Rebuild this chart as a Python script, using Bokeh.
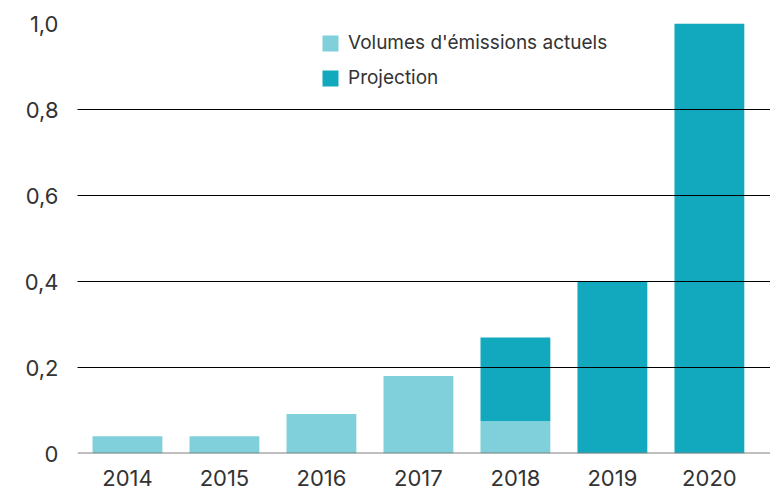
from bokeh.plotting import figure
from bokeh.models import (ColumnDataSource, FixedTicker, Range1d, Span, Legend, LegendItem)
from bokeh.embed import file_html
from bokeh.resources import INLINE

years = ["2014", "2015", "2016", "2017", "2018", "2019", "2020"]
actual = [0.04, 0.04, 0.092, 0.18, 0.075, 0.0, 0.0]
projection = [0.0, 0.0, 0.0, 0.0, 0.195, 0.40, 1.0]
y_ticks = [0, 0.2, 0.4, 0.6, 0.8, 1.0]
y_tick_labels = ["0", "0,2", "0,4", "0,6", "0,8", "1,0"]
series_names = ["Volumes d'émissions actuels", "Projection"]

LIGHT = "#7fd0da"
DARK = "#12a8bd"
FONT = "Inter"

xs = list(range(len(years)))
src = ColumnDataSource(dict(x=xs, actual=actual, projection=projection))

p = figure(width=770, height=494, output_backend="svg", toolbar_location=None,
           x_range=Range1d(-0.515, 6.63), y_range=Range1d(0, 1.0),
           min_border_left=77, min_border_right=0, min_border_top=23,
           min_border_bottom=41)
p.outline_line_color = None
p.background_fill_color = "white"

r = p.vbar_stack(["actual", "projection"], x="x", width=0.72, source=src,
                 color=[LIGHT, DARK], line_color=None)

p.xaxis.ticker = FixedTicker(ticks=xs)
p.xaxis.major_label_overrides = {i: y for i, y in enumerate(years)}
p.yaxis.ticker = FixedTicker(ticks=y_ticks)
p.yaxis.major_label_overrides = {t: l for t, l in zip(y_ticks, y_tick_labels)}

for ax in (p.xaxis[0], p.yaxis[0]):
    ax.axis_line_color = None
    ax.major_tick_line_color = None
    ax.minor_tick_line_color = None
    ax.major_tick_out = 0
    ax.major_tick_in = 0
    ax.minor_tick_out = 0
    ax.major_label_text_font = FONT
    ax.major_label_text_font_size = "22px"
    ax.major_label_text_color = "#333333"
p.yaxis.major_label_standoff = 19
p.xaxis.major_label_standoff = 16

p.xgrid.grid_line_color = None
p.ygrid.ticker = FixedTicker(ticks=y_ticks[1:])
p.ygrid.grid_line_color = "#000000"
p.ygrid.grid_line_width = 1
p.ygrid.level = "overlay"

base = Span(location=0, dimension="width", line_color="#808080", line_width=2,
            level="overlay")
p.add_layout(base)

legend = Legend(items=[LegendItem(label=series_names[0], renderers=[r[0]]),
                       LegendItem(label=series_names[1], renderers=[r[1]])],
                location=(243, 364), orientation="vertical")
legend.padding = 0
legend.margin = 0
legend.border_line_color = None
legend.background_fill_alpha = 0
legend.glyph_width = 20
legend.glyph_height = 20
legend.spacing = 12
legend.label_standoff = 8
legend.label_text_font = FONT
legend.label_text_font_size = "19px"
legend.label_text_color = "#333333"
p.add_layout(legend)

open("out.html", "w").write(file_html(p, INLINE))
